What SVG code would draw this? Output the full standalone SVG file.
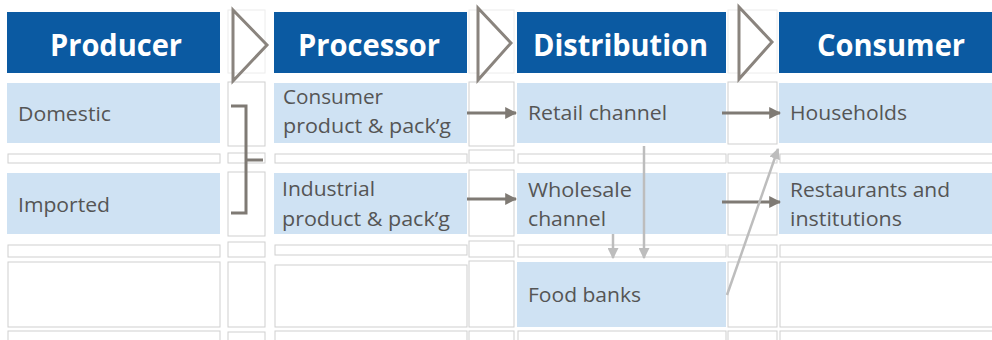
<svg xmlns="http://www.w3.org/2000/svg" width="992" height="340" viewBox="0 0 992 340">
<style>
.bg{fill:#ffffff}
.cell{fill:#ffffff;stroke:#cfcfcf;stroke-width:1}
.faint{fill:#ffffff;stroke:#ececec;stroke-width:1}
.blue{fill:#cfe2f3}
.hdr{fill:#0b5aa2}
.ht{font-family:"Open Sans","Noto Sans","Liberation Sans",sans-serif;font-weight:bold;font-size:30px;fill:#ffffff}
.bt{font-family:"Open Sans","Noto Sans","Liberation Sans",sans-serif;font-size:20px;fill:#555555}
.chev{fill:none;stroke:#8a847e;stroke-width:3;stroke-linejoin:miter}
.dark{fill:none;stroke:#7f7a74;stroke-width:3}
.light{fill:none;stroke:#bdbdbd;stroke-width:2.5}
</style>
<defs>
<marker id="ad" viewBox="0 0 10 10" refX="9" refY="5" markerWidth="4" markerHeight="4" orient="auto" markerUnits="strokeWidth">
<path d="M0,0 L10,5 L0,10 z" fill="#7f7a74"/>
</marker>
<marker id="al" viewBox="0 0 10 10" refX="9" refY="5" markerWidth="4.4" markerHeight="4.4" orient="auto" markerUnits="strokeWidth">
<path d="M0,0 L10,5 L0,10 z" fill="#bdbdbd"/>
</marker>
</defs>
<rect class="bg" x="0" y="0" width="992" height="340"/>

<g id="grid">
<rect class="faint" x="228" y="10" width="37" height="63"/>
<rect class="faint" x="469" y="10" width="45" height="63"/>
<rect class="faint" x="728" y="10" width="49" height="63"/>
<rect class="cell" x="228" y="82" width="37" height="64"/>
<rect class="cell" x="469" y="82" width="45" height="64"/>
<rect class="cell" x="728" y="82" width="49" height="62"/>
<rect class="cell" x="8" y="154" width="212" height="9"/>
<rect class="cell" x="228" y="153" width="37" height="10"/>
<rect class="cell" x="275" y="154" width="192" height="9"/>
<rect class="cell" x="469" y="150" width="45" height="13"/>
<rect class="cell" x="518" y="154" width="208" height="9"/>
<rect class="cell" x="728" y="154" width="49" height="9"/>
<rect class="cell" x="780" y="154" width="215" height="9"/>
<rect class="cell" x="228" y="172" width="37" height="64"/>
<rect class="cell" x="469" y="170" width="45" height="66"/>
<rect class="cell" x="728" y="173" width="49" height="62"/>
<rect class="cell" x="8" y="245" width="212" height="12"/>
<rect class="cell" x="228" y="242" width="37" height="15"/>
<rect class="cell" x="275" y="245" width="192" height="10"/>
<rect class="cell" x="469" y="241" width="45" height="16"/>
<rect class="cell" x="518" y="245" width="208" height="12"/>
<rect class="cell" x="728" y="245" width="49" height="12"/>
<rect class="cell" x="780" y="245" width="215" height="12"/>
<rect class="cell" x="8" y="262" width="212" height="65"/>
<rect class="cell" x="228" y="262" width="37" height="65"/>
<rect class="cell" x="275" y="265" width="192" height="62"/>
<rect class="cell" x="469" y="261" width="45" height="66"/>
<rect class="cell" x="728" y="262" width="49" height="65"/>
<rect class="cell" x="780" y="262" width="215" height="65"/>
<rect class="cell" x="8" y="331" width="212" height="20"/>
<rect class="cell" x="228" y="332" width="37" height="20"/>
<rect class="cell" x="275" y="331" width="192" height="20"/>
<rect class="cell" x="469" y="331" width="45" height="20"/>
<rect class="cell" x="518" y="331" width="208" height="20"/>
<rect class="cell" x="728" y="331" width="49" height="20"/>
<rect class="cell" x="780" y="331" width="215" height="20"/>
</g>

<g id="producer-header"><rect class="hdr" x="7" y="12" width="213" height="61"/><text class="ht" x="50" y="56" textLength="132" lengthAdjust="spacingAndGlyphs">Producer</text></g>
<g id="processor-header"><rect class="hdr" x="274" y="12" width="193" height="61"/><text class="ht" x="298" y="56" textLength="142" lengthAdjust="spacingAndGlyphs">Processor</text></g>
<g id="distribution-header"><rect class="hdr" x="517" y="12" width="209" height="61"/><text class="ht" x="533" y="56" textLength="175" lengthAdjust="spacingAndGlyphs">Distribution</text></g>
<g id="consumer-header"><rect class="hdr" x="779" y="12" width="225" height="61"/><text class="ht" x="817" y="56" textLength="148" lengthAdjust="spacingAndGlyphs">Consumer</text></g>

<g id="domestic"><rect class="blue" x="7" y="83" width="213" height="60"/><text class="bt" x="18" y="121" textLength="93" lengthAdjust="spacingAndGlyphs">Domestic</text></g>
<g id="imported"><rect class="blue" x="7" y="173" width="213" height="61"/><text class="bt" x="18" y="212" textLength="92" lengthAdjust="spacingAndGlyphs">Imported</text></g>
<g id="consumer-product"><rect class="blue" x="274" y="83" width="193" height="60"/><text class="bt" x="283" y="104" textLength="100" lengthAdjust="spacingAndGlyphs">Consumer</text><text class="bt" x="283" y="133" textLength="168" lengthAdjust="spacingAndGlyphs">product &amp; pack’g</text></g>
<g id="industrial-product"><rect class="blue" x="274" y="173" width="193" height="61"/><text class="bt" x="282" y="196" textLength="93" lengthAdjust="spacingAndGlyphs">Industrial</text><text class="bt" x="282" y="226" textLength="168" lengthAdjust="spacingAndGlyphs">product &amp; pack’g</text></g>
<g id="retail"><rect class="blue" x="517" y="83" width="209" height="60"/><text class="bt" x="528" y="120" textLength="139" lengthAdjust="spacingAndGlyphs">Retail channel</text></g>
<g id="wholesale"><rect class="blue" x="517" y="173" width="209" height="61"/><text class="bt" x="528" y="197" textLength="104" lengthAdjust="spacingAndGlyphs">Wholesale</text><text class="bt" x="528" y="226" textLength="78" lengthAdjust="spacingAndGlyphs">channel</text></g>
<g id="foodbanks"><rect class="blue" x="517" y="262" width="209" height="65"/><text class="bt" x="528" y="302" textLength="113" lengthAdjust="spacingAndGlyphs">Food banks</text></g>
<g id="households"><rect class="blue" x="779" y="83" width="225" height="60"/><text class="bt" x="790" y="120" textLength="117" lengthAdjust="spacingAndGlyphs">Households</text></g>
<g id="restaurants"><rect class="blue" x="779" y="173" width="225" height="61"/><text class="bt" x="790" y="197" textLength="160" lengthAdjust="spacingAndGlyphs">Restaurants and</text><text class="bt" x="790" y="226" textLength="112" lengthAdjust="spacingAndGlyphs">institutions</text></g>

<g id="chevrons">
<path class="chev" d="M233,10 L267,45 L233,81 Z"/>
<path class="chev" d="M478,8 L511,43 L478,80 Z"/>
<path class="chev" d="M739,7 L772,42 L739,79 Z"/>
</g>

<g id="connectors">
<path class="dark" d="M231,106 L246,106 L246,213 L231,213 M246,160 L263,160"/>
<line class="dark" x1="467" y1="113" x2="516" y2="113" marker-end="url(#ad)"/>
<line class="dark" x1="467" y1="199" x2="516" y2="199" marker-end="url(#ad)"/>
<line class="dark" x1="722" y1="113" x2="780" y2="113" marker-end="url(#ad)"/>
<line class="dark" x1="722" y1="202" x2="780" y2="202" marker-end="url(#ad)"/>
<line class="light" x1="644" y1="146" x2="644" y2="258" marker-end="url(#al)"/>
<line class="light" x1="613" y1="234" x2="613" y2="258" marker-end="url(#al)"/>
<line class="light" x1="727" y1="295" x2="778" y2="149" marker-end="url(#al)"/>
</g>
</svg>
